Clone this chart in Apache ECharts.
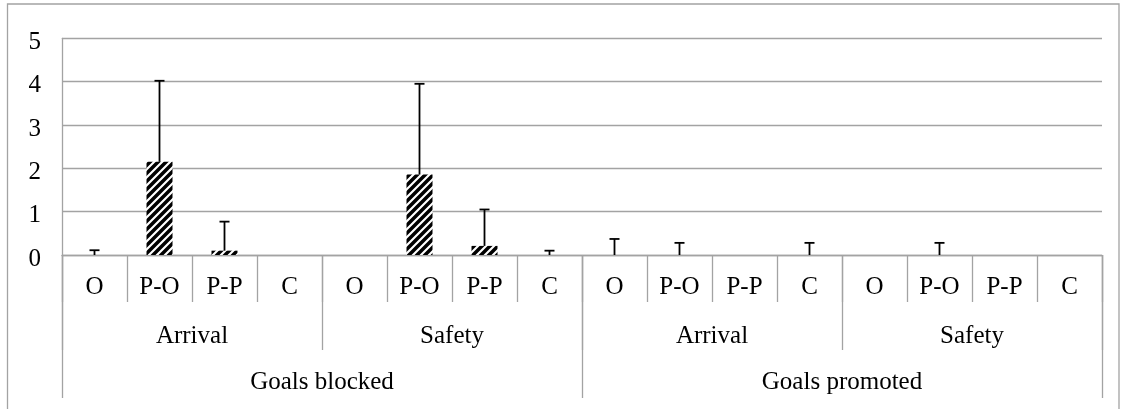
<!DOCTYPE html>
<html>
<head>
<meta charset="utf-8">
<script src="https://cdn.jsdelivr.net/npm/echarts@6/dist/echarts.min.js"></script>
<style>
html,body{margin:0;padding:0;background:#fff;}
#chart{width:1125px;height:409px;}
</style>
</head>
<body>
<div id="chart"></div>
<script>
// ---- data ----
const categories = ['O','P-O','P-P','C','O','P-O','P-P','C','O','P-O','P-P','C','O','P-O','P-P','C'];
const goalTypes = ['Arrival','Safety','Arrival','Safety'];
const conditions = ['Goals blocked','Goals promoted'];
const means = [0, 2.15, 0.1, 0, 0, 1.86, 0.21, 0, 0, 0, 0, 0, 0, 0, 0, 0];
const upperErrors = [0.11, 4.02, 0.77, null, null, 3.95, 1.05, 0.1, 0.37, 0.28, null, 0.28, null, 0.28, null, null];
const yMin = 0, yMax = 5, yStep = 1;

// ---- hatch pattern ----
function makeHatch(){
  const s = 8;
  const c = document.createElement('canvas');
  c.width = s; c.height = s;
  const ctx = c.getContext('2d');
  ctx.fillStyle = '#fff';
  ctx.fillRect(0,0,s,s);
  ctx.strokeStyle = '#000';
  ctx.lineWidth = 3.5;
  ctx.beginPath();
  ctx.moveTo(-2, s+2); ctx.lineTo(s+2, -2);
  ctx.moveTo(-2, 2); ctx.lineTo(2, -2);
  ctx.moveTo(s-2, s+2); ctx.lineTo(s+2, s-2);
  ctx.stroke();
  return c;
}

const FONT = 'Liberation Serif';
const FS = 25;
const GRAY = '#a3a3a3';

const errData = [];
upperErrors.forEach((u, i) => { if (u !== null) errData.push([i, means[i], u]); });

const chart = echarts.init(document.getElementById('chart'), null, {renderer:'canvas'});
chart.setOption({
  animation: false,
  backgroundColor: '#fff',
  graphic: [{
    type: 'rect',
    shape: {x: 7.5, y: 4, width: 1111.5, height: 420},
    style: {fill: 'none', stroke: GRAY, lineWidth: 1.3},
    silent: true
  }],
  grid: {left: 62, right: 23, top: 38.3, bottom: 154},
  xAxis: [
    {
      type: 'category', data: categories, position: 'bottom',
      axisLine: {show: true, lineStyle: {color: GRAY, width: 1.3}},
      axisTick: {show: true, length: 47, interval: 0, lineStyle: {color: GRAY, width: 1.3}},
      axisLabel: {interval: 0, margin: 20, color: '#000', fontFamily: FONT, fontSize: FS, lineHeight: 24},
      splitLine: {show: false}
    },
    {
      type: 'category', data: goalTypes, position: 'bottom',
      axisLine: {show: false},
      axisTick: {show: true, length: 95, interval: 0, lineStyle: {color: GRAY, width: 1.3}},
      axisLabel: {interval: 0, margin: 69, color: '#000', fontFamily: FONT, fontSize: FS, lineHeight: 24},
      splitLine: {show: false}
    },
    {
      type: 'category', data: conditions, position: 'bottom',
      axisLine: {show: false},
      axisTick: {show: true, length: 143, interval: 0, lineStyle: {color: GRAY, width: 1.3}},
      axisLabel: {interval: 0, margin: 115, color: '#000', fontFamily: FONT, fontSize: FS, lineHeight: 24},
      splitLine: {show: false}
    }
  ],
  yAxis: {
    type: 'value', min: yMin, max: yMax, interval: yStep,
    axisLine: {show: true, lineStyle: {color: GRAY, width: 1.3}},
    axisTick: {show: false},
    axisLabel: {margin: 21, color: '#000', fontFamily: FONT, fontSize: FS, lineHeight: 8, verticalAlign: 'top'},
    splitLine: {show: true, lineStyle: {color: GRAY, width: 1.3}}
  },
  series: [
    {
      type: 'bar', xAxisIndex: 0, data: means, barWidth: '40%',
      itemStyle: {color: {image: makeHatch(), repeat: 'repeat'}},
      silent: true
    },
    {
      type: 'custom', xAxisIndex: 0, data: errData,
      encode: {x: 0, y: [1, 2]},
      silent: true, z: 5,
      renderItem: function(params, api){
        const p0 = api.coord([api.value(0), api.value(1)]);
        const p1 = api.coord([api.value(0), api.value(2)]);
        const half = 5;
        return {
          type: 'group',
          children: [
            {type: 'line', shape: {x1: p0[0], y1: p0[1], x2: p1[0], y2: p1[1]}, style: {stroke: '#000', lineWidth: 1.8}},
            {type: 'line', shape: {x1: p1[0]-half, y1: p1[1], x2: p1[0]+half, y2: p1[1]}, style: {stroke: '#000', lineWidth: 1.8}}
          ]
        };
      }
    }
  ]
});
</script>
</body>
</html>
